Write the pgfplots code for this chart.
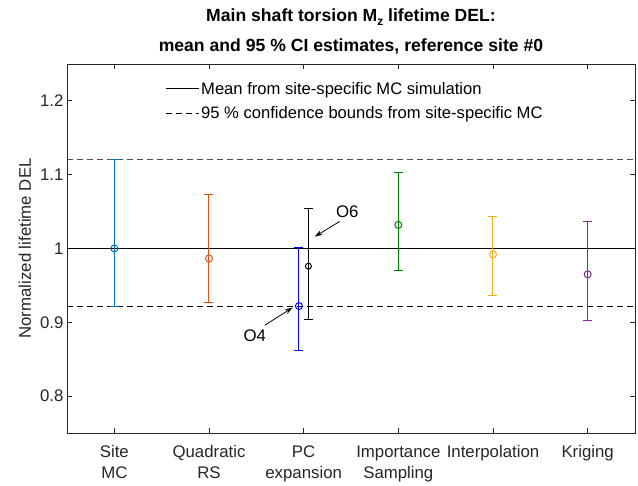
\documentclass[border=0pt]{standalone}
\usepackage{pgfplots}
\pgfplotsset{compat=1.18}
\usepackage{fontspec}
\setmainfont{Liberation Sans}
\usetikzlibrary{arrows.meta}

\definecolor{mblue}{rgb}{0,0.447,0.741}
\definecolor{morange}{rgb}{0.850,0.325,0.098}
\definecolor{mgreen}{rgb}{0,0.5,0}
\definecolor{myellow}{rgb}{0.929,0.694,0.125}
\definecolor{mpurple}{rgb}{0.494,0.184,0.556}
\definecolor{axgray}{rgb}{0.15,0.15,0.15}

% one style per estimator: coloured bar, caps and open circle
\pgfplotsset{
    est/.style={#1, line width=1pt, mark=o, mark size=3.5pt, forget plot,
        error bars/error bar style={#1, line width=1pt},
        error bars/error mark options={#1, line width=1pt, mark size=4.5pt, rotate=90}},
}

\begin{document}
\begin{tikzpicture}
\begin{axis}[
    scale only axis,
    width=568pt, height=369pt,
    xmin=0.5, xmax=6.5,
    ymin=0.75, ymax=1.25,
    xtick={1,2,3,4,5,6},
    xticklabels={{Site\\MC},{Quadratic\\RS},{PC\\expansion},{Importance\\Sampling},{Interpolation},{Kriging}},
    ytick={0.8,0.9,1,1.1,1.2},
    yticklabels={0.8,0.9,1,1.1,1.2},
    tick align=inside,
    tick pos=both,
    major tick length=5pt,
    axis line style={axgray, line width=0.8pt},
    every tick/.style={axgray, line width=0.8pt},
    tick label style={axgray, font=\fontsize{16.8}{21}\selectfont},
    xticklabel style={align=center, anchor=north, yshift=-9pt},
    ylabel={Normalized lifetime DEL},
    every axis y label/.style={at={(axis description cs:-0.074,0.5)}, rotate=90, anchor=center, axgray, font=\fontsize{16.8}{19}\selectfont},
    title={Main shaft torsion M\raisebox{-4pt}{\fontsize{12}{12}\selectfont z} lifetime DEL:\\mean and 95 \% CI estimates, reference site \#0},
    title style={at={(axis description cs:0.5,1.0732)}, anchor=center, align=center, font=\bfseries\fontsize{17.6}{30}\selectfont},
    legend style={at={(axis description cs:0.1725,0.957)}, anchor=north west, draw=none, fill=none,
        font=\fontsize{16.6}{19}\selectfont, row sep=7pt, inner sep=0pt},
    legend cell align=left,
    legend image code/.code={\draw[#1] (0pt,0pt) -- (33pt,0pt);},
    error bars/y dir=both,
    error bars/y explicit,
]
\addplot[black, line width=1pt] coordinates {(0.5,1) (6.5,1)};
\addlegendentry{Mean from site-specific MC simulation}
\addplot[black, line width=1pt, dash pattern=on 6pt off 4pt] coordinates {(0.5,0.921) (6.5,0.921)};
\addlegendentry{95 \% confidence bounds from site-specific MC}
\addplot[black!70, line width=1pt, dash pattern=on 6pt off 4pt, forget plot] coordinates {(0.5,1.121) (6.5,1.121)};

\addplot[est=mblue]   coordinates {(1,1.000) += (0,0.121) -= (0,0.079)};
\addplot[est=morange] coordinates {(2,0.9865) += (0,0.0865) -= (0,0.0595)};
\addplot[est=blue]    coordinates {(2.95,0.922) += (0,0.080) -= (0,0.060)};
\addplot[est=black, mark size=3pt] coordinates {(3.05,0.976) += (0,0.078) -= (0,0.072)};
\addplot[est=mgreen]  coordinates {(4,1.032) += (0,0.071) -= (0,0.062)};
\addplot[est=myellow] coordinates {(5,0.992) += (0,0.051) -= (0,0.056)};
\addplot[est=mpurple] coordinates {(6,0.965) += (0,0.072) -= (0,0.063)};

% annotations
\draw[black, line width=0.8pt, -{Stealth[length=8pt,width=5pt]}] (axis cs:2.589,0.896) -- (axis cs:2.884,0.920);
\node[font=\fontsize{16.8}{19}\selectfont] at (axis cs:2.484,0.882) {O4};
\draw[black, line width=0.8pt, -{Stealth[length=8pt,width=5pt]}] (axis cs:3.379,1.0365) -- (axis cs:3.116,1.016);
\node[font=\fontsize{16.8}{19}\selectfont] at (axis cs:3.46,1.050) {O6};
\end{axis}
\path (current axis.south west) ++(-67pt,-49pt) coordinate (bbA);
\path (current axis.south west) ++(571pt,433pt) coordinate (bbB);
\path (bbA) rectangle (bbB);
\end{tikzpicture}
\end{document}
